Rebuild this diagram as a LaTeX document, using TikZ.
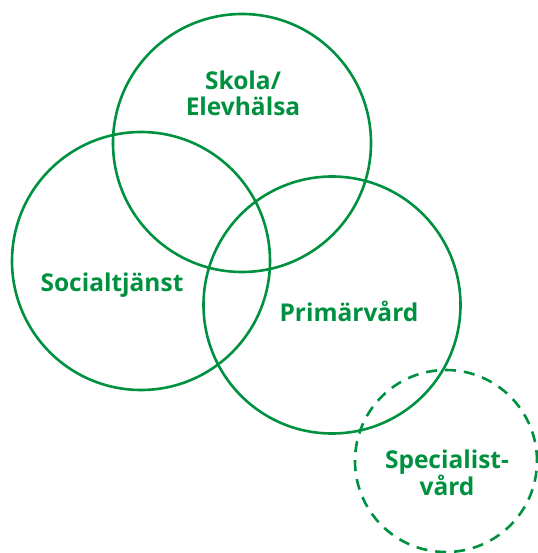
\documentclass[tikz,border=0pt]{standalone}
\usepackage{fontspec}
\setmainfont{Open Sans}
\definecolor{vgreen}{RGB}{0,145,64}
\begin{document}
\begin{tikzpicture}[x=1pt,y=-1pt,
  ring/.style={draw=vgreen,line width=2.6pt,circle,minimum size=#1,inner sep=0pt},
  lbl/.style={text=vgreen,font=\bfseries\fontsize{24.5}{26}\selectfont,align=center,inner sep=0pt}]
\useasboundingbox (0,0) rectangle (537,553);
\node[ring=258pt] (skola) at (242,143) {};
\node[ring=258pt] (social) at (141,261) {};
\node[ring=257pt] (prim) at (332,305) {};
\node[ring=182pt,dash pattern=on 11pt off 8pt] (spec) at (446,461) {};
\node[lbl] (tskola) at (243,93) {Skola/\\Elevhälsa};
\node[lbl] (tsocial) at (112,285) {Socialtjänst};
\node[lbl] (tprim) at (349,311) {Primärvård};
\node[lbl] (tspec) at (447,473) {Specialist-\\vård};
\end{tikzpicture}
\end{document}
